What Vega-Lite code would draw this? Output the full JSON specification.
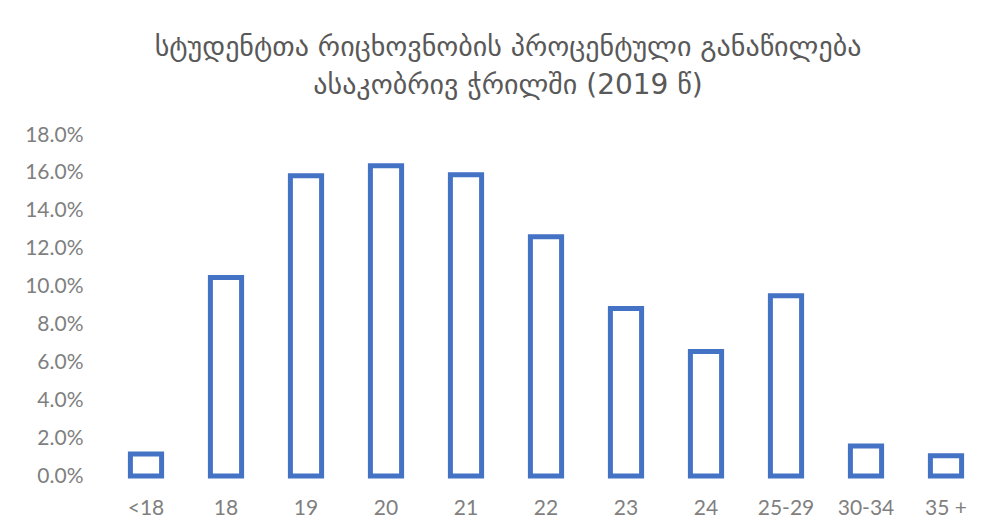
{
  "$schema": "https://vega.github.io/schema/vega-lite/v6.json",
  "autosize": {"type": "none"},
  "width": 880,
  "height": 341,
  "padding": {"left": 106, "top": 135, "right": 17, "bottom": 56},
  "background": "white",
  "config": {"view": {"stroke": null}},
  "title": {
    "text": ["სტუდენტთა რიცხოვნობის პროცენტული განაწილება", "ასაკობრივ ჭრილში (2019 წ)"],
    "font": "DejaVu Sans",
    "fontSize": 28,
    "fontWeight": "normal",
    "color": "#595959",
    "lineHeight": 38,
    "anchor": "middle",
    "frame": "group",
    "dx": -38,
    "offset": 24
  },
  "data": {
    "values": [
      {"age": "<18", "share": 0.0116},
      {"age": "18", "share": 0.1048},
      {"age": "19", "share": 0.1585},
      {"age": "20", "share": 0.1638},
      {"age": "21", "share": 0.159},
      {"age": "22", "share": 0.1263},
      {"age": "23", "share": 0.0884},
      {"age": "24", "share": 0.0657},
      {"age": "25-29", "share": 0.0951},
      {"age": "30-34", "share": 0.0159},
      {"age": "35 +", "share": 0.0107}
    ]
  },
  "mark": {"type": "bar", "fill": "white", "stroke": "#4472C4", "strokeWidth": 5},
  "encoding": {
    "x": {
      "field": "age",
      "type": "nominal",
      "sort": null,
      "title": null,
      "scale": {"paddingInner": 0.61, "paddingOuter": 0.305},
      "axis": {
        "labelAngle": 0,
        "domain": false,
        "ticks": false,
        "tickSize": 0,
        "labelPadding": 21,
        "labelFont": "Lato",
        "labelFontSize": 21,
        "labelColor": "#7f7f7f"
      }
    },
    "y": {
      "field": "share",
      "type": "quantitative",
      "title": null,
      "scale": {"domain": [0, 0.18]},
      "axis": {
        "values": [0, 0.02, 0.04, 0.06, 0.08, 0.1, 0.12, 0.14, 0.16, 0.18],
        "format": ".1%",
        "domain": false,
        "ticks": false,
        "tickSize": 0,
        "grid": false,
        "labelPadding": 23,
        "labelFont": "Lato",
        "labelFontSize": 21,
        "labelColor": "#7f7f7f"
      }
    }
  }
}
